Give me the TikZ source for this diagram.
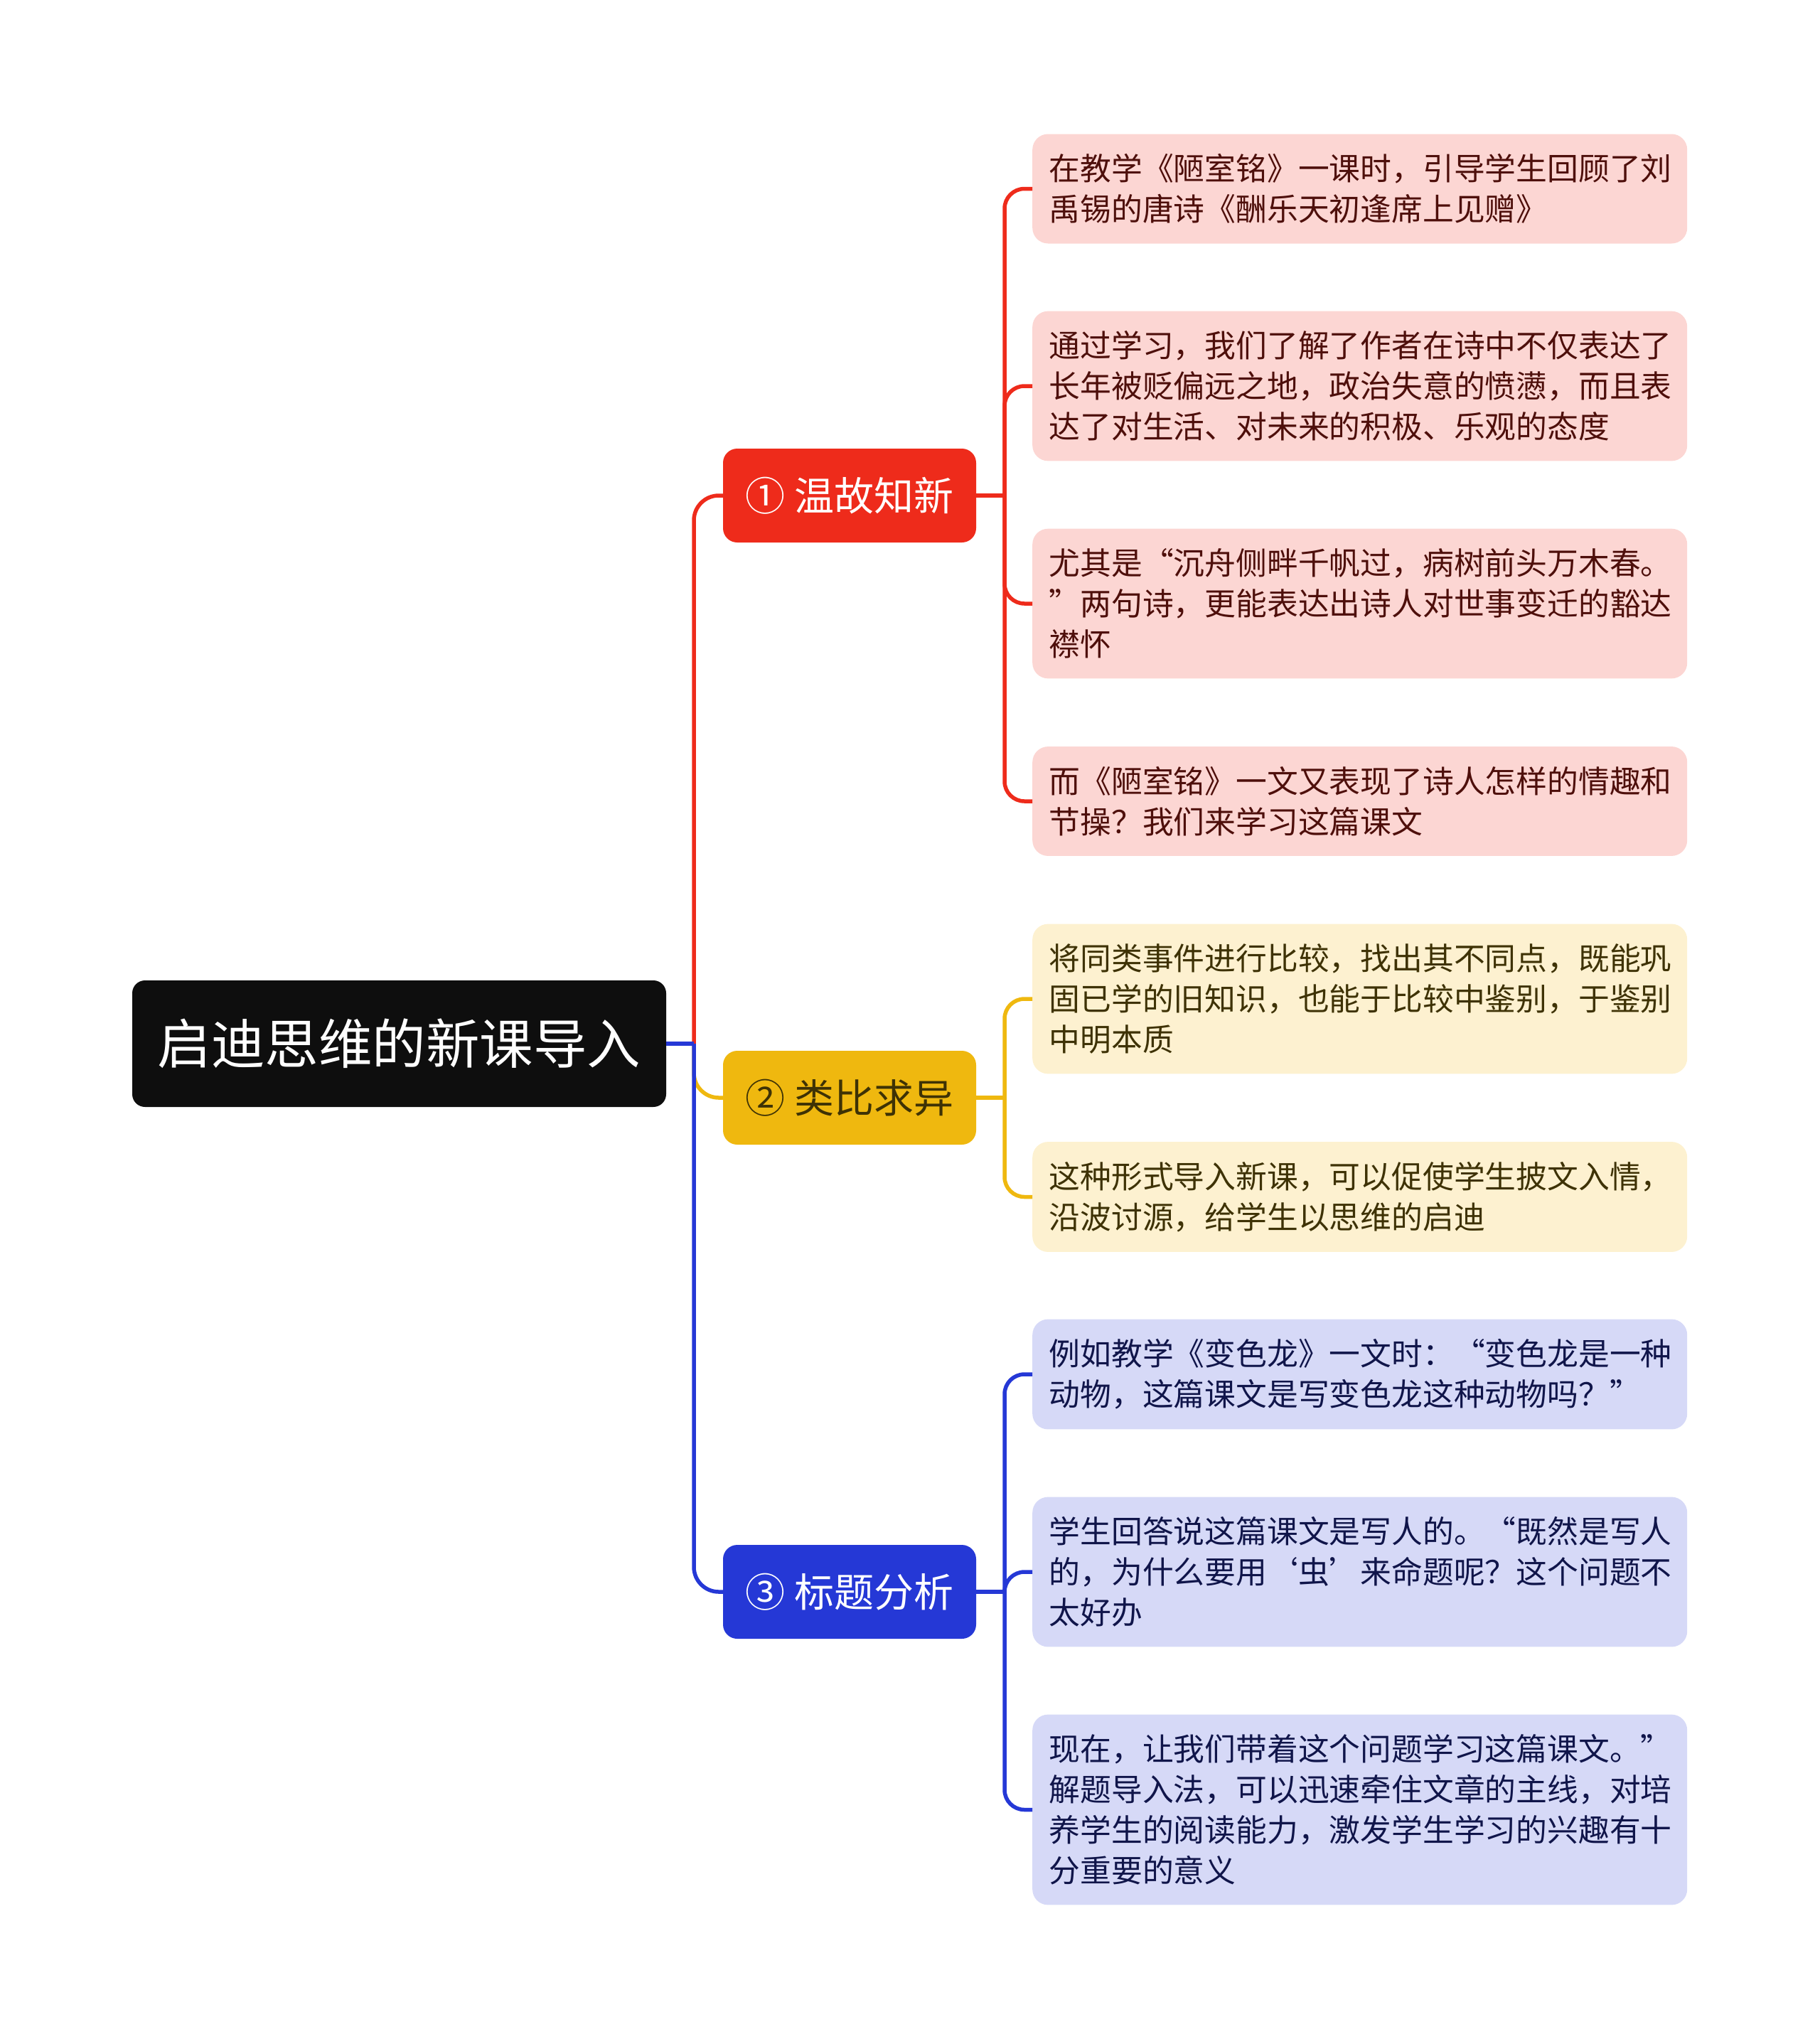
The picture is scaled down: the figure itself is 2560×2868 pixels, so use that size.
\documentclass[tikz,border=0pt]{standalone}
\usepackage{fontspec}
\setmainfont{Noto Sans CJK SC}
\usetikzlibrary{positioning}
\definecolor{rootbg}{HTML}{0E0E0E}
\definecolor{redbr}{HTML}{EE2B1B}
\definecolor{yelbr}{HTML}{EFB80F}
\definecolor{bluebr}{HTML}{2538D6}
\definecolor{redleaf}{HTML}{FCD6D3}
\definecolor{yelleaf}{HTML}{FDF1D0}
\definecolor{blueleaf}{HTML}{D6D9F7}
\definecolor{redtxt}{HTML}{4E0F0B}
\definecolor{yeltxt}{HTML}{3E3205}
\definecolor{bluetxt}{HTML}{10154A}

\begin{document}
\begin{tikzpicture}[x=1pt,y=-1pt,
  rootbox/.style={fill=rootbg,text=white,rounded corners=18pt,minimum width=751pt,minimum height=178pt,inner sep=0pt,font=\fontsize{75.5}{88}\selectfont},
  topic/.style={rounded corners=20pt,minimum width=356pt,minimum height=132pt,inner sep=0pt,font=\fontsize{56}{64}\selectfont},
  leaf/.style={anchor=west,rounded corners=22pt,text width=874pt,align=left,inner xsep=23.5pt,inner ysep=28pt,font=\fontsize{43.8}{57}\selectfont},
  link/.style={line width=5.5pt,rounded corners=35pt},
  sublink/.style={line width=5.5pt,rounded corners=28pt}]
\useasboundingbox (0,0) rectangle (2560,2868);
\node[rootbox] (root) at (561.5,1468) {启迪思维的新课导入};
% main branches
\node[topic,fill=redbr,text=white] (wgzx) at (1195,697) {① 温故知新};
\node[topic,fill=yelbr,text=yeltxt] (lbqy) at (1195,1544) {② 类比求异};
\node[topic,fill=bluebr,text=white] (btfx) at (1195,2239) {③ 标题分析};
% leaves of branch 1
\node[leaf,fill=redleaf,text=redtxt] (r1) at (1452,265.5) {在教学《陋室铭》一课时，引导学生回顾了刘\\禹锡的唐诗《酬乐天初逢席上见赠》};
\node[leaf,fill=redleaf,text=redtxt] (r2) at (1452,543) {通过学习，我们了解了作者在诗中不仅表达了\\长年被贬偏远之地，政治失意的愤懑，而且表\\达了对生活、对未来的积极、乐观的态度};
\node[leaf,fill=redleaf,text=redtxt] (r3) at (1452,849) {尤其是“沉舟侧畔千帆过，病树前头万木春。\\”两句诗，更能表达出诗人对世事变迁的豁达\\襟怀};
\node[leaf,fill=redleaf,text=redtxt] (r4) at (1452,1127) {而《陋室铭》一文又表现了诗人怎样的情趣和\\节操？我们来学习这篇课文};
% leaves of branch 2
\node[leaf,fill=yelleaf,text=yeltxt] (y1) at (1452,1405) {将同类事件进行比较，找出其不同点，既能巩\\固已学的旧知识，也能于比较中鉴别，于鉴别\\中明本质};
\node[leaf,fill=yelleaf,text=yeltxt] (y2) at (1452,1683.5) {这种形式导入新课，可以促使学生披文入情，\\沿波讨源，给学生以思维的启迪};
% leaves of branch 3
\node[leaf,fill=blueleaf,text=bluetxt] (b1) at (1452,1933) {例如教学《变色龙》一文时：“变色龙是一种\\动物，这篇课文是写变色龙这种动物吗？”};
\node[leaf,fill=blueleaf,text=bluetxt] (b2) at (1452,2211) {学生回答说这篇课文是写人的。“既然是写人\\的，为什么要用‘虫’来命题呢？这个问题不\\太好办};
\node[leaf,fill=blueleaf,text=bluetxt] (b3) at (1452,2545.5) {现在，让我们带着这个问题学习这篇课文。”\\解题导入法，可以迅速牵住文章的主线，对培\\养学生的阅读能力，激发学生学习的兴趣有十\\分重要的意义};
% connectors
\coordinate (hub) at (976,1468);
\draw[redbr,link] (hub) |- (wgzx.west);
\draw[yelbr,link] (hub) |- (lbqy.west);
\draw[bluebr,link] (hub) |- (btfx.west);
\draw[bluebr,line width=5.5pt] (root.east) -- (hub);
\coordinate (rhub) at (1413,697);
\coordinate (yhub) at (1413,1544);
\coordinate (bhub) at (1413,2239);
\draw[redbr,line width=5.5pt] (wgzx.east) -- (rhub);
\draw[yelbr,line width=5.5pt] (lbqy.east) -- (yhub);
\draw[bluebr,line width=5.5pt] (btfx.east) -- (bhub);
\foreach \n in {r1,r2,r3,r4}{\draw[redbr,sublink] (rhub) |- (\n.west);}
\foreach \n in {y1,y2}{\draw[yelbr,sublink] (yhub) |- (\n.west);}
\foreach \n in {b1,b2,b3}{\draw[bluebr,sublink] (bhub) |- (\n.west);}
\end{tikzpicture}
\end{document}
